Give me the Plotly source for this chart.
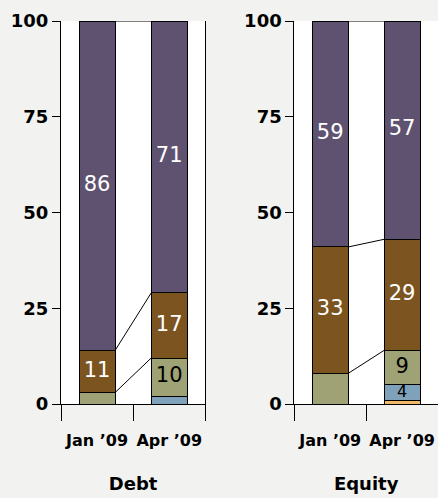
import plotly.graph_objects as go

categories = ["Jan ’09", "Apr ’09"]
panels = ["Debt", "Equity"]

series_names = ["Other", "Cash", "Convertible", "Preferred", "Common"]
series_colors = ["#f0b968", "#7fa2ba", "#9ea274", "#7b5420", "#5e5270"]
label_colors = ["black", "black", "black", "white", "white"]
label_sizes = [16, 16, 21, 21, 21]

# Debt panel values (bottom to top)
debt_other = [0, 0]
debt_cash = [0, 2]
debt_convertible = [3, 10]
debt_preferred = [11, 17]
debt_common = [86, 71]

# Equity panel values (bottom to top)
equity_other = [0, 1]
equity_cash = [0, 4]
equity_convertible = [8, 9]
equity_preferred = [33, 29]
equity_common = [59, 57]

# Labels printed inside the segments
debt_labels = [["", ""], ["", ""], ["", "10"], ["11", "17"], ["86", "71"]]
equity_labels = [["", ""], ["", "4"], ["", "9"], ["33", "29"], ["59", "57"]]

panel_data = {
    "Debt": [debt_other, debt_cash, debt_convertible, debt_preferred, debt_common],
    "Equity": [equity_other, equity_cash, equity_convertible, equity_preferred, equity_common],
}
panel_labels = {"Debt": debt_labels, "Equity": equity_labels}

FONT = "DejaVu Sans"
W, H = 438, 498

fig = go.Figure()

axis_ids = [("x", "y", "x3"), ("x2", "y2", "x4")]
bar_width = 0.5

for p, panel in enumerate(panels):
    xa, ya, xo = axis_ids[p]
    vals = panel_data[panel]
    labs = panel_labels[panel]
    for s, name in enumerate(series_names):
        fig.add_trace(go.Bar(
            x=categories, y=vals[s], name=name, xaxis=xa, yaxis=ya,
            marker=dict(color=series_colors[s], line=dict(color="black", width=1)),
            showlegend=False, hoverinfo="skip",
        ))
    cum = [0.0 for _ in categories]
    for s in range(len(series_names)):
        mids = [c + v / 2 for c, v in zip(cum, vals[s])]
        cum = [c + v for c, v in zip(cum, vals[s])]
        # segment labels
        fig.add_trace(go.Scatter(
            x=list(range(len(categories))), y=mids, text=labs[s],
            mode="text", textposition="middle center", xaxis=xo, yaxis=ya,
            textfont=dict(family=FONT, size=label_sizes[s], color=label_colors[s]),
            showlegend=False, hoverinfo="skip",
        ))
        # connector lines between cumulative segment tops
        if all(v > 0 for v in vals[s]):
            xs = []
            ys = []
            for i in range(len(categories) - 1):
                xs += [i + bar_width / 2, i + 1 - bar_width / 2, None]
                ys += [cum[i], cum[i + 1], None]
            fig.add_trace(go.Scatter(
                x=xs, y=ys, mode="lines", xaxis=xo, yaxis=ya,
                line=dict(color="black", width=1),
                showlegend=False, hoverinfo="skip",
            ))

domains = [[61 / W, 205.3 / W], [294.3 / W, 1.0]]

common_x = dict(
    type="category", tickson="boundaries", ticks="outside", ticklen=16,
    tickwidth=1, tickcolor="black", showline=True, linecolor="black",
    linewidth=1, showgrid=False, zeroline=False, ticklabelstandoff=22,
    tickangle=0, automargin=False,
    tickfont=dict(family=FONT, size=16, color="black", weight="bold"),
    fixedrange=True,
)
common_y = dict(
    range=[0, 100], tickvals=[0, 25, 50, 75, 100], ticks="outside",
    ticklen=8, tickwidth=1, tickcolor="black", showline=True, mirror=True,
    linecolor="black", linewidth=1, showgrid=False, zeroline=False,
    automargin=False,
    tickfont=dict(family=FONT, size=18, color="black", weight="bold"),
    fixedrange=True,
)
over_x = dict(range=[-0.5, len(categories) - 0.5], visible=False,
              fixedrange=True, automargin=False)

fig.update_layout(
    width=W, height=H,
    margin=dict(l=0, r=0, t=21, b=94),
    paper_bgcolor="#f2f2f0", plot_bgcolor="white",
    barmode="stack", bargap=0.5,
    font=dict(family=FONT, color="black"),
    xaxis=dict(domain=domains[0], anchor="y",
               title=dict(text="Debt", standoff=28,
                          font=dict(family=FONT, size=18, color="black", weight="bold")),
               **common_x),
    xaxis2=dict(domain=domains[1], anchor="y2",
                title=dict(text="Equity", standoff=28,
                           font=dict(family=FONT, size=18, color="black", weight="bold")),
                **common_x),
    yaxis=dict(domain=[0, 1], anchor="x", **common_y),
    yaxis2=dict(domain=[0, 1], anchor="x2", **common_y),
    xaxis3=dict(overlaying="x", anchor="y", **over_x),
    xaxis4=dict(overlaying="x2", anchor="y2", **over_x),
    showlegend=False,
)

fig.write_html("out.html")
